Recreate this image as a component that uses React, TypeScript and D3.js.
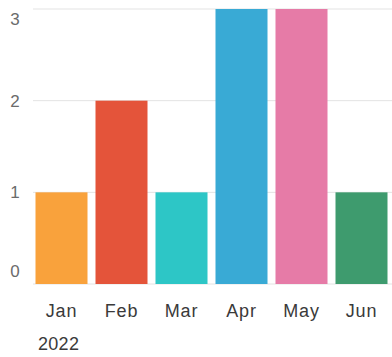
import React from "react";
import * as d3 from "d3";

const months = ["Jan", "Feb", "Mar", "Apr", "May", "Jun"];
const counts = [1, 2, 1, 3, 3, 1];
const barColors = ["#F9A23C", "#E4543A", "#2DC6C6", "#39AAD5", "#E67BA7", "#3E9B6E"];
const yTicks = [0, 1, 2, 3];
const yearLabel = "2022";

const W = 392;
const H = 357;
const plot = { left: 31.5, right: 391.5, top: 9, bottom: 284 };

export default function App() {
  const x = d3
    .scaleBand<string>()
    .domain(months)
    .range([plot.left, plot.right])
    .paddingInner(8 / 60)
    .paddingOuter(4 / 60);

  const y = d3.scaleLinear().domain([0, 3]).range([plot.bottom, plot.top]);

  const font = "'Liberation Sans', Arial, Helvetica, sans-serif";

  return (
    <svg
      width={W}
      height={H}
      style={{ position: "absolute", left: 0, top: 0, background: "#fff" }}
    >
      {/* horizontal grid */}
      {yTicks.map((t) => (
        <line
          key={"g" + t}
          x1={33}
          x2={W}
          y1={y(t)}
          y2={y(t)}
          stroke="#e3e3e3"
          strokeWidth={1}
        />
      ))}

      {/* y tick labels, kept inside the plot vertically */}
      {yTicks.map((t) => {
        const cy = Math.min(Math.max(y(t), 19), 271);
        return (
          <text
            key={"yl" + t}
            x={15}
            y={cy}
            dy="0.36em"
            textAnchor="middle"
            fontFamily={font}
            fontSize={17}
            fill="#6b6b6b"
          >
            {t}
          </text>
        );
      })}

      {/* bars */}
      {months.map((m, i) => (
        <rect
          key={m}
          x={x(m)}
          y={y(counts[i])}
          width={x.bandwidth()}
          height={y(0) - y(counts[i])}
          fill={barColors[i]}
        />
      ))}

      {/* month labels */}
      {months.map((m) => (
        <text
          key={"xl" + m}
          x={(x(m) ?? 0) + x.bandwidth() / 2}
          y={316.5}
          textAnchor="middle"
          fontFamily={font}
          fontSize={18}
          letterSpacing={0.8}
          fill="#3a3a3a"
        >
          {m}
        </text>
      ))}

      <text
        x={38}
        y={350}
        fontFamily={font}
        fontSize={18}
        letterSpacing={0.3}
        fill="#3a3a3a"
      >
        {yearLabel}
      </text>
    </svg>
  );
}
